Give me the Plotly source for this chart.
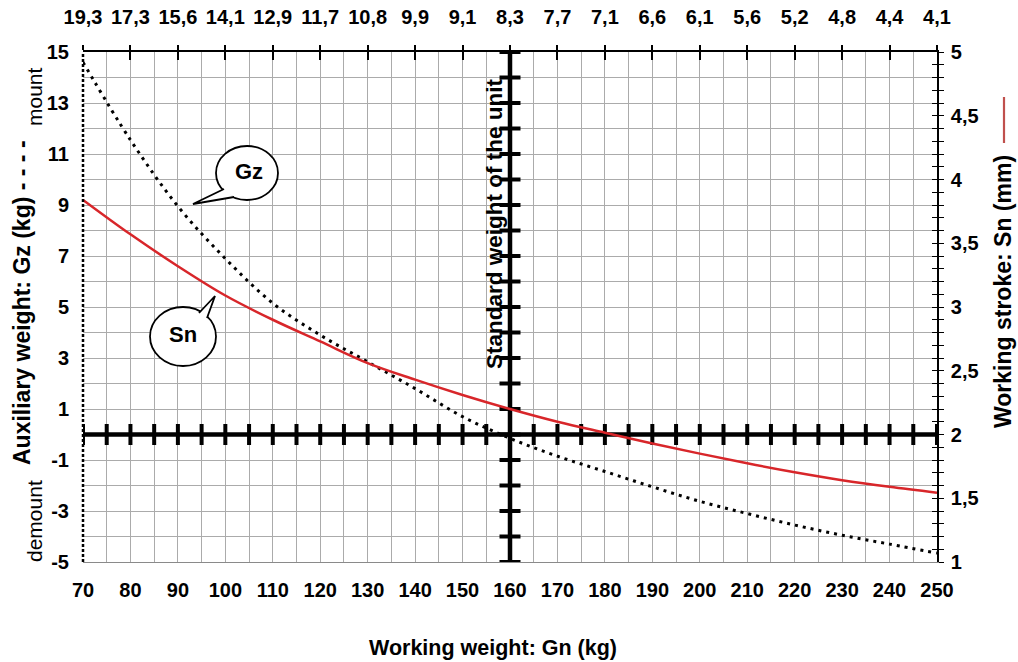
import plotly.graph_objects as go

# ---------------- data ----------------
gn = [70, 80, 90, 100, 110, 120, 130, 140, 150, 160, 170, 180, 190, 200, 210, 220, 230, 240, 250]
gz = [14.6, 11.55, 8.95, 6.9, 5.15, 3.9, 2.85, 1.8, 0.7, -0.15, -0.85, -1.45, -2.05, -2.62, -3.1, -3.55, -3.95, -4.3, -4.65]
sn = [3.84, 3.57, 3.32, 3.09, 2.90, 2.73, 2.56, 2.43, 2.31, 2.20, 2.10, 2.014, 1.93, 1.85, 1.774, 1.704, 1.642, 1.59, 1.544]
top_labels = ["19,3", "17,3", "15,6", "14,1", "12,9", "11,7", "10,8", "9,9", "9,1", "8,3",
              "7,7", "7,1", "6,6", "6,1", "5,6", "5,2", "4,8", "4,4", "4,1"]
left_ticks = [-5, -3, -1, 1, 3, 5, 7, 9, 11, 13, 15]
right_ticks = [1, 1.5, 2, 2.5, 3, 3.5, 4, 4.5, 5]
right_labels = ["1", "1,5", "2", "2,5", "3", "3,5", "4", "4,5", "5"]
x_axis_ticks = list(range(70, 251, 5))
y_axis_ticks = list(range(-5, 16, 1))
standard_x = 160

FONT = "Liberation Sans, Arial, sans-serif"
TICKF = dict(family=FONT, size=20, color="black", weight="bold")
GRID = "#ababab"

W, H = 1018, 662
ML, MR, MT, MB = 83, 81, 52, 100
PW, PH = W - ML - MR, H - MT - MB

def px2x(px):
    return 70 + (px - ML) / PW * 180

def py2y(py):
    return 15 - (py - MT) / PH * 20

def pxp(px):
    return (px - ML) / PW

def pyp(py):
    return (H - MB - py) / PH

fig = go.Figure()

# thick reference axes
fig.add_trace(go.Scatter(x=[gn[0], gn[-1]], y=[0, 0], mode="lines",
                         line=dict(color="black", width=4.5), hoverinfo="skip", showlegend=False))
fig.add_trace(go.Scatter(x=[standard_x, standard_x], y=[-5, 15], mode="lines",
                         line=dict(color="black", width=4.5), hoverinfo="skip", showlegend=False))
fig.add_trace(go.Scatter(x=x_axis_ticks, y=[0] * len(x_axis_ticks), mode="markers",
                         marker=dict(symbol="line-ns", size=15, line=dict(color="black", width=4)),
                         hoverinfo="skip", showlegend=False))
fig.add_trace(go.Scatter(x=[standard_x] * len(y_axis_ticks), y=y_axis_ticks, mode="markers",
                         marker=dict(symbol="line-ew", size=15, line=dict(color="black", width=4)),
                         hoverinfo="skip", showlegend=False))

# curves
fig.add_trace(go.Scatter(x=gn, y=gz, mode="lines", name="Gz",
                         line=dict(color="black", width=3, dash="3px,5px", shape="spline"),
                         showlegend=False))
fig.add_trace(go.Scatter(x=gn, y=sn, mode="lines", name="Sn", yaxis="y2",
                         line=dict(color="#d8262a", width=2.5, shape="spline"),
                         showlegend=False))
# helper invisible traces for overlay axes
fig.add_trace(go.Scatter(x=[gn[0]], y=[1], xaxis="x2", yaxis="y3", mode="markers",
                         marker=dict(opacity=0), hoverinfo="skip", showlegend=False))
fig.add_trace(go.Scatter(x=[gn[0]], y=[1], xaxis="x3", yaxis="y3", mode="markers",
                         marker=dict(opacity=0), hoverinfo="skip", showlegend=False))

fig.update_layout(
    width=W, height=H,
    margin=dict(l=ML, r=MR, t=MT, b=MB, autoexpand=False),
    paper_bgcolor="white", plot_bgcolor="white",
    font=dict(family=FONT, color="black"),
    xaxis=dict(range=[70, 250], tickvals=gn, ticks="", showline=True, linecolor="#8a8a8a",
               linewidth=1.2, mirror=False, showgrid=True, gridcolor=GRID, gridwidth=1,
               minor=dict(dtick=5, tick0=70, showgrid=True, gridcolor=GRID, gridwidth=1),
               zeroline=False, tickfont=TICKF, ticklabelstandoff=10, automargin=False),
    xaxis2=dict(range=[70, 250], overlaying="x", side="top", anchor="y", tickvals=gn,
                ticktext=top_labels, ticks="outside", ticklen=5, tickwidth=1.5, tickcolor="black",
                showline=True, linecolor="black", linewidth=1.6, showgrid=False, zeroline=False,
                tickfont=TICKF, ticklabelstandoff=13, automargin=False),
    xaxis3=dict(range=[70, 250], overlaying="x", side="top", anchor="y", tickvals=gn,
                ticks="inside", ticklen=8, tickwidth=1.5, tickcolor="black",
                showticklabels=False, showline=False, showgrid=False, zeroline=False,
                automargin=False),
    yaxis=dict(range=[-5, 15], tickvals=left_ticks, ticktext=[str(v) for v in left_ticks],
               ticks="", showline=False, showgrid=True, gridcolor=GRID, gridwidth=1,
               minor=dict(dtick=1, tick0=-5, showgrid=True, gridcolor=GRID, gridwidth=1),
               zeroline=False, tickfont=TICKF, ticklabelstandoff=13, automargin=False),
    yaxis2=dict(range=[1, 5], overlaying="y", side="right", anchor="x", tickvals=right_ticks,
                ticktext=right_labels, ticks="outside", ticklen=5, tickwidth=1.3, tickcolor="black",
                minor=dict(dtick=0.1, tick0=1, ticks="outside", ticklen=5, tickwidth=1.3, tickcolor="black"),
                showline=True, linecolor="black", linewidth=1.6, showgrid=False, zeroline=False,
                tickfont=TICKF, ticklabelstandoff=3, automargin=False),
    yaxis3=dict(range=[1, 5], overlaying="y", side="right", anchor="x", tickvals=right_ticks,
                ticks="inside", ticklen=5, tickwidth=1.3, tickcolor="black",
                minor=dict(dtick=0.1, tick0=1, ticks="inside", ticklen=5, tickwidth=1.3, tickcolor="black"),
                showticklabels=False, showline=False, showgrid=False, zeroline=False,
                automargin=False),
)

shapes = []
# dotted left border
shapes.append(dict(type="line", xref="paper", yref="paper", x0=0, x1=0, y0=0, y1=1,
                   line=dict(color="black", width=2.5, dash="3px,2px")))
# Gz bubble
shapes.append(dict(type="circle", xref="x", yref="y", x0=px2x(216), x1=px2x(278),
                   y0=py2y(200), y1=py2y(146), fillcolor="white",
                   line=dict(color="black", width=1.8)))
shapes.append(dict(type="path", xref="x", yref="y",
                   path=f"M {px2x(224)},{py2y(189)} L {px2x(193)},{py2y(204)} L {px2x(234)},{py2y(197)}",
                   fillcolor="white", line=dict(color="black", width=1.8)))
# Sn bubble
shapes.append(dict(type="circle", xref="x", yref="y", x0=px2x(150), x1=px2x(216),
                   y0=py2y(366), y1=py2y(307), fillcolor="white",
                   line=dict(color="black", width=1.8)))
shapes.append(dict(type="path", xref="x", yref="y",
                   path=f"M {px2x(199)},{py2y(313)} L {px2x(215)},{py2y(296)} L {px2x(207)},{py2y(318)}",
                   fillcolor="white", line=dict(color="black", width=1.8)))
# red legend line at right
shapes.append(dict(type="line", xref="paper", yref="paper", x0=pxp(1004), x1=pxp(1004),
                   y0=pyp(97), y1=pyp(143), line=dict(color="#c0504d", width=2.2)))
fig.update_layout(shapes=shapes)

def note(text, x, y, size, bold=True, angle=0, xref="paper", yref="paper",
         xanchor="center", yanchor="middle", xshift=0):
    f = dict(family=FONT, size=size, color="black")
    if bold:
        f["weight"] = "bold"
    return dict(text=text, x=x, y=y, xref=xref, yref=yref, showarrow=False,
                xanchor=xanchor, yanchor=yanchor, xshift=xshift, textangle=angle, font=f)

ann = [
    note("Gz", px2x(249), py2y(171), 22, xref="x", yref="y"),
    note("Sn", px2x(183), py2y(334), 22, xref="x", yref="y"),
    note("Standard weight of the unit", standard_x, py2y(224.5), 22.5, angle=-90,
         xref="x", yref="y", xanchor="right", xshift=-1),
    note("Auxiliary weight: Gz (kg) - - - -", pxp(22), pyp(303), 23, angle=-90),
    note("mount", pxp(34), pyp(97), 21, bold=False, angle=-90),
    note("demount", pxp(34), pyp(521), 21, bold=False, angle=-90),
    note("Working stroke: Sn (mm)", pxp(1003), pyp(292), 23, angle=-90),
    note("Working weight: Gn (kg)", pxp(493), pyp(648), 21.5),
]
fig.update_layout(annotations=ann)

fig.write_html("out.html",
               config={"displayModeBar": False},
               post_script="document.body.style.margin='0';document.body.style.overflow='hidden';")
